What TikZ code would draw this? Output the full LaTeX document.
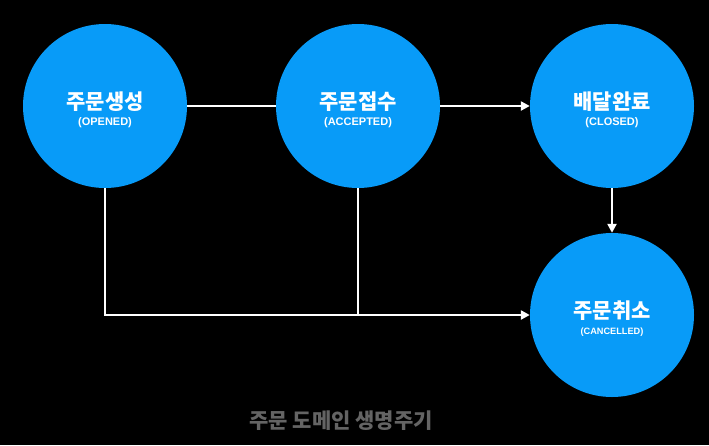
\documentclass[tikz,border=0pt]{standalone}
\usepackage{fontspec}
\setmainfont{Liberation Sans}
\newfontfamily\kofont{Noto Sans CJK KR}
\usepackage{tikz}
\usetikzlibrary{arrows.meta,positioning}
\definecolor{stateblue}{RGB}{8,155,248}
\definecolor{titlegray}{RGB}{100,100,100}

\begin{document}
\begin{tikzpicture}[
    x=1pt, y=-1pt,
    statenode/.style={circle, fill=stateblue, draw=none, minimum size=164pt, inner sep=0pt, text=white, align=center},
    flowline/.style={draw=white, line width=2.6pt},
    flowarrow/.style={flowline, -{Triangle[length=9pt, width=9pt]}}
]
    \useasboundingbox[fill=black] (0,0) rectangle (709,445);

    \node[statenode] (opened) at (105,106) {\rule{0pt}{25pt}{\kofont\bfseries\fontsize{21}{24}\selectfont 주문생성}\\[4pt]{\bfseries\fontsize{11}{12}\selectfont (OPENED)}};
    \node[statenode] (accepted) at (358,106) {\rule{0pt}{25pt}{\kofont\bfseries\fontsize{21}{24}\selectfont 주문접수}\\[4pt]{\bfseries\fontsize{11}{12}\selectfont (ACCEPTED)}};
    \node[statenode] (closed) at (612,106) {\rule{0pt}{25pt}{\kofont\bfseries\fontsize{21}{24}\selectfont 배달완료}\\[4pt]{\bfseries\fontsize{11}{12}\selectfont (CLOSED)}};
    \node[statenode] (cancelled) at (612,315) {\rule{0pt}{25pt}{\kofont\bfseries\fontsize{21}{24}\selectfont 주문취소}\\[4pt]{\bfseries\fontsize{9.2}{12}\selectfont (CANCELLED)}};

    \coordinate (join) at (accepted.south |- cancelled.west);

    \draw[flowline] (opened) -- (accepted);
    \draw[flowarrow] (accepted) -- (closed);
    \draw[flowarrow] (closed) -- (cancelled);
    \draw[flowarrow] (opened.south) |- (cancelled.west);
    \draw[flowline] (accepted.south) -- (join);

    \node[text=titlegray, font=\kofont\bfseries\fontsize{21}{24}\selectfont] (title) at (341,421) {주문 도메인 생명주기};
\end{tikzpicture}
\end{document}
